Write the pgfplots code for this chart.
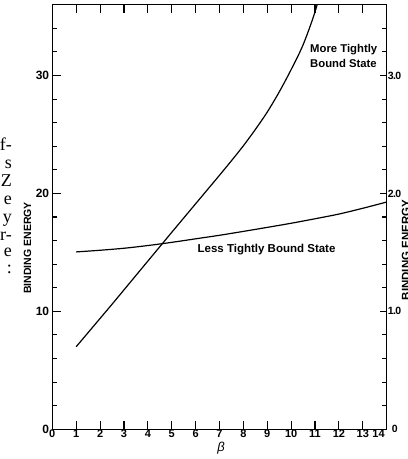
\documentclass[border=0pt]{standalone}
\usepackage{fontspec}
\setmainfont{Liberation Sans}
\newfontfamily\fragfont{Liberation Serif}
\usepackage{pgfplots}
\pgfplotsset{compat=1.18}
\begin{document}
\begin{tikzpicture}
\path[use as bounding box] (-52.3pt,-29.7pt) rectangle (355.7pt,429.3pt);
\begin{axis}[name=ax, at={(0pt,0pt)}, anchor=south west,
  scale only axis, width=334.4pt, height=424.6pt,
  xmin=0, xmax=14, ymin=0, ymax=36,
  axis line style={line width=1.2pt},
  every tick/.style={black, line width=1.1pt},
  tick align=inside, major tick length=8.5pt, minor tick length=5pt,
  xtick={0,1,2,3,4,5,6,7,8,9,10,11,12,13,14},
  xticklabels={0,1,2,3,4,5,6,7,8,9,10,11,12,13,\makebox[0pt][r]{14\hspace{2pt}}},
  xtick pos=both,
  ytick={0,10,20,30}, yticklabels={0,10,20,30},
  minor ytick={2,4,6,8,12,14,16,18,22,24,26,28,32,34},
  ytick pos=left,
  xticklabel style={font=\bfseries\fontsize{11}{11}\selectfont, inner sep=0pt, yshift=-0.8pt},
  yticklabel style={font=\bfseries\fontsize{12}{12}\selectfont, inner sep=0pt, xshift=-3pt},
]
\addplot[smooth, line width=1.2pt, black] coordinates {
(1,7.0) (1.5,8.2) (2,9.4) (2.5,10.6) (3,11.82) (3.5,13.04) (4,14.26) (4.5,15.48)
(5,16.7) (5.5,17.91) (6,19.12) (6.5,20.33) (7,21.54) (7.5,22.77) (8,24.04)
(8.5,25.42) (9,26.9) (9.5,28.6) (10,30.5) (10.5,32.6) (11,35.4) (11.5,39.0)};
\addplot[smooth, line width=1.2pt, black] coordinates {
(1,15.04) (2,15.18) (3,15.35) (4,15.58) (5,15.85) (6,16.15) (7,16.45)
(8,16.78) (9,17.12) (10,17.47) (11,17.85) (12,18.25) (13,18.74) (14,19.27)};
\node[anchor=base west, inner sep=0pt, font=\bfseries\fontsize{11.3}{11.3}\selectfont] at (axis cs:10.79,31.96) {More Tightly};
\node[anchor=base west, inner sep=0pt, font=\bfseries\fontsize{11.3}{11.3}\selectfont] at (axis cs:10.79,30.68) {Bound State};
\node[anchor=base, inner sep=0pt, font=\bfseries\fontsize{11.5}{11.5}\selectfont] at (axis cs:8.97,15.01) {Less Tightly Bound State};
\end{axis}
\begin{axis}[at={(0pt,0pt)}, anchor=south west,
  scale only axis, width=334.4pt, height=424.6pt,
  xmin=0, xmax=14, ymin=0, ymax=3.6,
  axis line style={line width=1.2pt},
  every tick/.style={black, line width=1.1pt},
  tick align=inside, major tick length=7pt, minor tick length=5pt,
  xtick=\empty,
  ytick={0,1,2,3}, yticklabels={\hspace{4pt}0,1\kern-0.6pt.\kern-0.6pt0,2\kern-0.6pt.\kern-0.6pt0,3\kern-0.6pt.\kern-0.6pt0},
  minor ytick={0.2,0.4,0.6,0.8,1.2,1.4,1.6,1.8,2.2,2.4,2.6,2.8,3.2,3.4},
  ytick pos=right, yticklabel pos=right,
  yticklabel style={font=\bfseries\fontsize{10.5}{10.5}\selectfont, inner sep=0pt, xshift=1pt},
]
\end{axis}
% labels
\node[rotate=90, inner sep=0pt, font=\bfseries\fontsize{10.5}{10.5}\selectfont] at (-24.8pt,181.3pt) {BINDING ENERGY};
\node[rotate=90, inner sep=0pt, font=\bfseries\fontsize{11.5}{11.5}\selectfont] at (353.7pt,179.3pt) {BINDING ENERGY};
\node[inner sep=0pt, font=\itshape\fontsize{13}{13}\selectfont] at (168.7pt,-19pt) {β};
% cropped text fragments of the neighbouring column
\begin{scope}[every node/.style={anchor=base east, inner sep=0pt, font=\fragfont\fontsize{18}{18}\selectfont}]
\node at (-40.3pt,278.3pt) {f-};
\node at (-40.3pt,260.3pt) {s};
\node at (-40.3pt,242.3pt) {Z};
\node at (-40.3pt,224.3pt) {e};
\node at (-40.3pt,206.8pt) {y};
\node at (-40.3pt,189.3pt) {r-};
\node at (-40.3pt,172.3pt) {e};
\node at (-40.3pt,155.3pt) {:};
\end{scope}
\end{tikzpicture}
\end{document}
